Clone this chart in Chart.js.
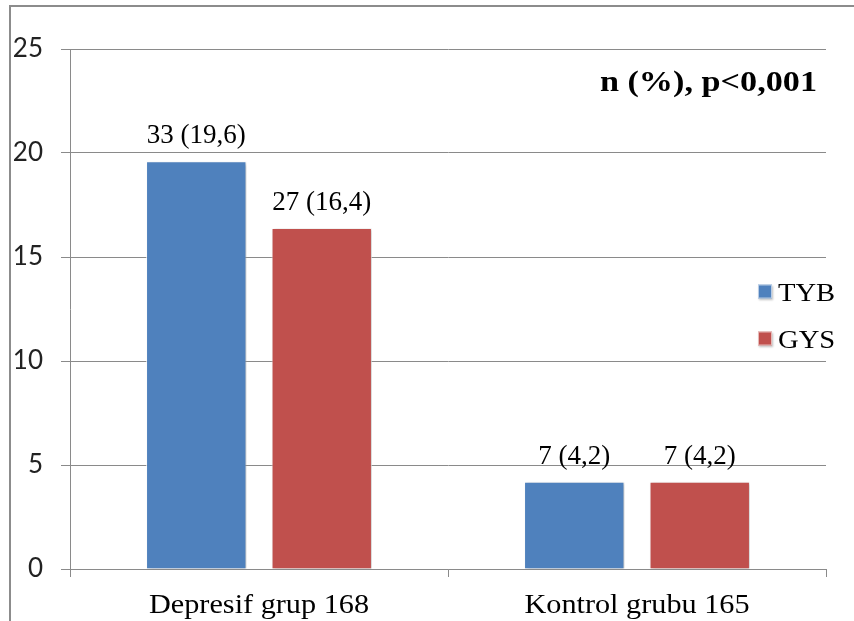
<!DOCTYPE html>
<html>
<head>
<meta charset="utf-8">
<script src="https://cdn.jsdelivr.net/npm/chart.js@4/dist/chart.umd.min.js"></script>
<style>
  html, body { margin: 0; padding: 0; background: #fff; }
  #wrap { width: 854px; height: 621px; position: relative; }
</style>
</head>
<body>
<div id="wrap"><canvas id="c"></canvas></div>
<script>
// Groups and series
const categories = ['Depresif grup 168', 'Kontrol grubu 165'];
const seriesNames = ['TYB', 'GYS'];
const tybPercent = [19.6, 4.2];
const gysPercent = [16.4, 4.2];
const tybCount = [33, 7];
const gysCount = [27, 7];
const yTicks = [0, 5, 10, 15, 20, 25];
const noteText = 'n (%), p<0,001';

const counts = [tybCount, gysCount];
const SERIF = '"Liberation Serif", "Times New Roman", serif';
const GRID = '#8a8a8a';

// Serif text, optionally widened horizontally
function drawText(ctx, text, x, y, font, sx, align) {
  ctx.save();
  ctx.font = font;
  ctx.fillStyle = '#000';
  ctx.textBaseline = 'alphabetic';
  ctx.textAlign = 'left';
  const w = ctx.measureText(text).width * sx;
  const left = align === 'center' ? x - w / 2 : align === 'right' ? x - w : x;
  ctx.translate(left, y);
  ctx.scale(sx, 1);
  ctx.fillText(text, 0, 0);
  ctx.restore();
}

function fmt(n, pct) {
  return n + ' (' + String(pct).replace('.', ',') + ')';
}

// White page with a grey frame on the left and top edges
const framePlugin = {
  id: 'frame',
  beforeDraw(chart) {
    const ctx = chart.ctx;
    ctx.save();
    ctx.fillStyle = '#fff';
    ctx.fillRect(0, 0, chart.width, chart.height);
    ctx.strokeStyle = '#8c8c8c';
    ctx.lineWidth = 2;
    ctx.beginPath();
    ctx.moveTo(10, chart.height);
    ctx.lineTo(10, 6);
    ctx.lineTo(chart.width, 6);
    ctx.stroke();
    ctx.restore();
  }
};

// Soft drop shadow under the bars
const shadowPlugin = {
  id: 'barShadow',
  beforeDatasetsDraw(chart) {
    const ctx = chart.ctx;
    ctx.save();
    ctx.shadowColor = 'rgba(0,0,0,0.28)';
    ctx.shadowBlur = 3;
    ctx.shadowOffsetX = 1.5;
    ctx.shadowOffsetY = 1.5;
  },
  afterDatasetsDraw(chart) {
    chart.ctx.restore();
  }
};

// Value labels, category labels, note and legend
const annotatePlugin = {
  id: 'annotate',
  afterDraw(chart) {
    const ctx = chart.ctx;
    const area = chart.chartArea;

    chart.data.datasets.forEach((ds, i) => {
      const meta = chart.getDatasetMeta(i);
      meta.data.forEach((bar, j) => {
        drawText(ctx, fmt(counts[i][j], ds.data[j]), bar.x, bar.y - 18,
          '27px ' + SERIF, 1.0, 'center');
      });
    });

    const xs = chart.scales.x;
    categories.forEach((c, j) => {
      drawText(ctx, c, xs.getPixelForValue(j), 613, '27px ' + SERIF, 1.12, 'center');
    });

    drawText(ctx, noteText, area.right - 9, area.top + 42, 'bold 30px ' + SERIF, 1.14, 'right');

    const midY = (area.top + area.bottom) / 2 + 6;
    chart.data.datasets.forEach((ds, i) => {
      const cy = midY + (i - 0.5) * 47;
      const sx = area.right - 68;
      ctx.save();
      ctx.shadowColor = 'rgba(0,0,0,0.25)';
      ctx.shadowBlur = 2;
      ctx.shadowOffsetX = 1;
      ctx.shadowOffsetY = 1;
      ctx.fillStyle = ds.backgroundColor;
      ctx.fillRect(sx, cy - 7, 14, 14);
      ctx.restore();
      ctx.save();
      ctx.strokeStyle = 'rgba(255,255,255,0.6)';
      ctx.lineWidth = 1;
      ctx.strokeRect(sx + 0.5, cy - 6.5, 13, 13);
      ctx.restore();
      drawText(ctx, ds.label, sx + 20, cy + 9, '26px ' + SERIF, 1.1, 'left');
    });
  }
};

new Chart(document.getElementById('c'), {
  type: 'bar',
  data: {
    labels: categories,
    datasets: [
      {
        label: seriesNames[0],
        data: tybPercent,
        backgroundColor: '#4F81BD',
        borderColor: 'rgba(255,255,255,0.75)',
        borderWidth: 1,
        categoryPercentage: 0.664,
        barPercentage: 0.8
      },
      {
        label: seriesNames[1],
        data: gysPercent,
        backgroundColor: '#C0504D',
        borderColor: 'rgba(255,255,255,0.75)',
        borderWidth: 1,
        categoryPercentage: 0.664,
        barPercentage: 0.8
      }
    ]
  },
  options: {
    responsive: true,
    maintainAspectRatio: false,
    animation: false,
    layout: { padding: { top: 49, right: 28, bottom: 0, left: 0 } },
    plugins: {
      legend: { display: false },
      tooltip: { enabled: false },
      title: { display: false }
    },
    scales: {
      x: {
        offset: true,
        grid: {
          display: true,
          offset: true,
          drawOnChartArea: false,
          drawTicks: true,
          tickLength: 8,
          color: GRID
        },
        border: { display: true, color: GRID, width: 1 },
        ticks: { display: false },
        afterFit(scale) { scale.height = 52; }
      },
      y: {
        min: 0,
        max: 25,
        afterBuildTicks(scale) { scale.ticks = yTicks.map(v => ({ value: v })); },
        grid: { color: GRID, drawTicks: true, tickLength: 9 },
        border: { display: true, color: GRID, width: 1 },
        ticks: {
          font: { family: 'Lato', size: 26 },
          color: '#222',
          padding: 18
        },
        afterFit(scale) { scale.width = 70; }
      }
    }
  },
  plugins: [framePlugin, shadowPlugin, annotatePlugin]
});
</script>
</body>
</html>
